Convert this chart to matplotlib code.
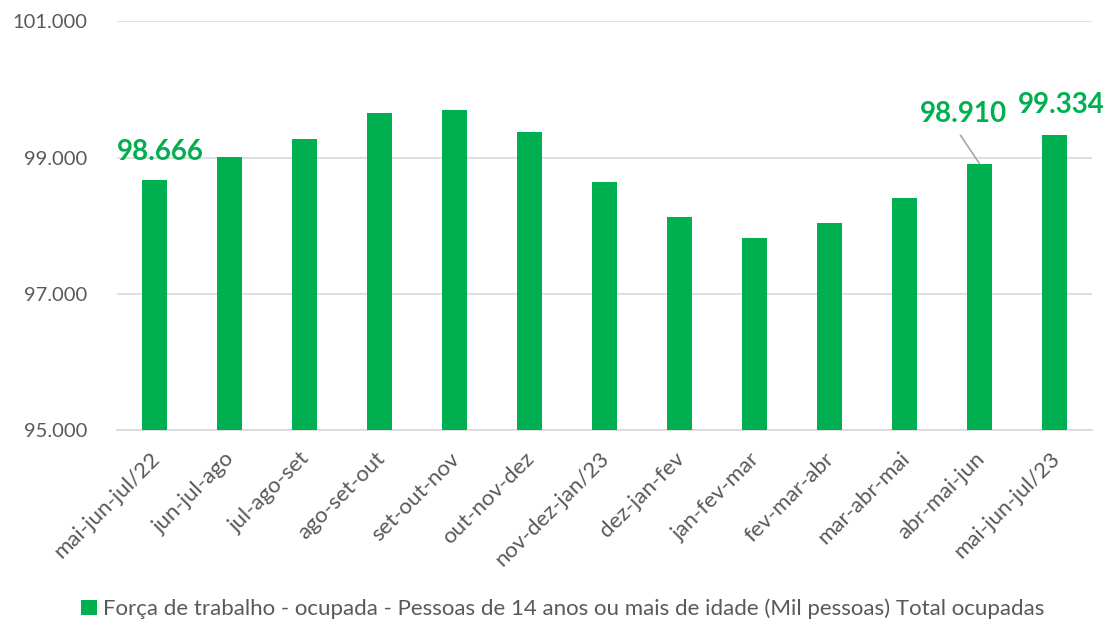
import matplotlib
matplotlib.use("Agg")
import matplotlib.pyplot as plt
from matplotlib.patches import Patch
from matplotlib.transforms import ScaledTranslation

# Trimestres móveis e população ocupada (mil pessoas)
periodos = [
    "mai-jun-jul/22", "jun-jul-ago", "jul-ago-set", "ago-set-out", "set-out-nov",
    "out-nov-dez", "nov-dez-jan/23", "dez-jan-fev", "jan-fev-mar", "fev-mar-abr",
    "mar-abr-mai", "abr-mai-jun", "mai-jun-jul/23",
]
ocupadas = [
    98666, 99015, 99274, 99660, 99694, 99372, 98638,
    98125, 97826, 98032, 98403, 98910, 99334,
]
rotulados = [0, 11, 12]
yticks = [95000, 97000, 99000, 101000]
serie = "Força de trabalho - ocupada - Pessoas de 14 anos ou mais de idade (Mil pessoas) Total ocupadas"

verde = "#00B050"
cinza_txt = "#595959"
cinza_grade = "#D9D9D9"

plt.rcParams["font.family"] = ["Lato", "DejaVu Sans"]

fig = plt.figure(figsize=(11.12, 6.26), dpi=100)
ax = fig.add_axes([0.105, 0.313, 0.877, 0.653])

x = list(range(len(periodos)))
ax.bar(x, ocupadas, width=0.33, color=verde, zorder=3)


def fmt(v):
    return f"{v:,}".replace(",", ".")


ax.set_xlim(-0.5, len(periodos) - 0.5)
ax.set_ylim(yticks[0], yticks[-1])
ax.set_yticks(yticks)
ax.set_yticklabels([fmt(v) for v in yticks], fontsize=14.5, color=cinza_txt)
ax.grid(axis="y", color=cinza_grade, linewidth=1.2, zorder=0)
ax.set_axisbelow(True)
for s in ["top", "right", "left"]:
    ax.spines[s].set_visible(False)
ax.spines["bottom"].set_color(cinza_grade)
ax.spines["bottom"].set_linewidth(1.2)
ax.tick_params(axis="y", length=0, pad=21)
ax.tick_params(axis="x", length=0, pad=4)

ax.set_xticks(x)
ax.set_xticklabels(periodos, rotation=45, ha="right", va="top",
                   rotation_mode="anchor", fontsize=16, color=cinza_txt)
shift = ScaledTranslation(-5 / 100, -13 / 100, fig.dpi_scale_trans)
for lab in ax.get_xticklabels():
    lab.set_transform(lab.get_transform() + shift)

# Rótulos de valor em destaque
offsets = {0: (6, 28), 11: (-16, 50), 12: (7, 30)}
for i in rotulados:
    dx, dy = offsets[i]
    kw = {}
    if i == 11:
        kw["arrowprops"] = dict(arrowstyle="-", color="#A6A6A6", lw=1.2,
                                relpos=(0.4, 0.0), shrinkA=5, shrinkB=0)
    ax.annotate(fmt(ocupadas[i]), xy=(i, ocupadas[i]), xytext=(dx, dy),
                textcoords="offset pixels", ha="center", va="center",
                fontsize=20, fontweight="bold", color=verde, zorder=5, **kw)

handle = Patch(facecolor=verde, edgecolor="none")
fig.legend([handle], [serie], loc="center", bbox_to_anchor=(0.506, 0.027),
           frameon=False, fontsize=16, handlelength=0.7, handleheight=0.7,
           handletextpad=0.25, labelcolor=cinza_txt)

fig.savefig("out.png", dpi=100)
